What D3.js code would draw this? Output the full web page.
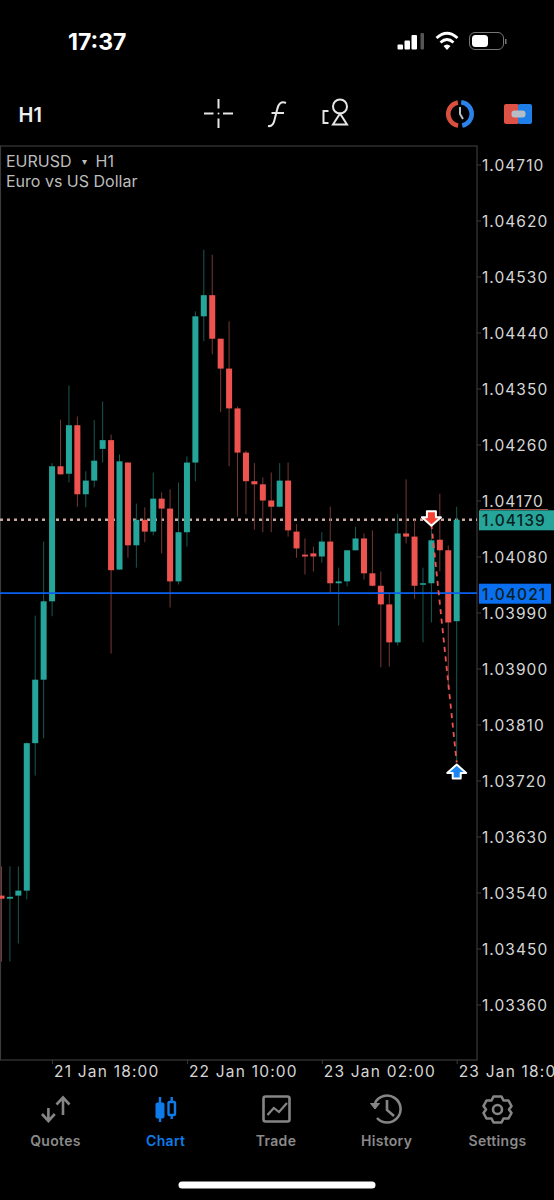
<!DOCTYPE html>
<html>
<head>
<meta charset="utf-8">
<style>
  html, body { margin: 0; padding: 0; background: #000; }
  svg { display: block; font-family: Inter, "Liberation Sans", sans-serif; }
</style>
<script src="https://cdn.jsdelivr.net/npm/d3@7"></script>
</head>
<body>
<div id="chart"></div>
<script>
// hourly candles, oldest first
const opens = [
  1.03535, 1.03530, 1.03535, 1.03543, 1.03780, 1.03882, 1.04008, 1.04225, 1.04213, 1.04291, 1.04180,
  1.04202, 1.04253, 1.04267, 1.04059, 1.04231, 1.04098, 1.04139, 1.04120, 1.04173, 1.04157, 1.04040,
  1.04119, 1.04231, 1.04466, 1.04500, 1.04430, 1.04382, 1.04318, 1.04247, 1.04201, 1.04196, 1.04170,
  1.04160, 1.04202, 1.04120, 1.04083, 1.04085, 1.04080, 1.04104, 1.04037, 1.04040, 1.04090, 1.04109,
  1.04053, 1.04033, 1.04003, 1.03942, 1.04117, 1.04112, 1.04035, 1.04037, 1.04107, 1.04090, 1.03976
];
const closes = [
  1.03530, 1.03533, 1.03543, 1.03780, 1.03882, 1.04008, 1.04225, 1.04212, 1.04291, 1.04180, 1.04202,
  1.04234, 1.04267, 1.04058, 1.04233, 1.04098, 1.04139, 1.04120, 1.04173, 1.04157, 1.04040, 1.04119,
  1.04231, 1.04466, 1.04500, 1.04430, 1.04382, 1.04318, 1.04247, 1.04201, 1.04196, 1.04170, 1.04160,
  1.04202, 1.04122, 1.04093, 1.04080, 1.04080, 1.04104, 1.04037, 1.04040, 1.04090, 1.04109, 1.04053,
  1.04033, 1.04003, 1.03942, 1.04117, 1.04112, 1.04033, 1.04037, 1.04106, 1.04090, 1.03974, 1.04139
];
const highs = [
  1.03582, 1.03582, 1.03582, 1.03781, 1.03985, 1.04104, 1.04230, 1.04300, 1.04355, 1.04305, 1.04217,
  1.04299, 1.04329, 1.04276, 1.04244, 1.04231, 1.04165, 1.04159, 1.04215, 1.04183, 1.04188, 1.04199,
  1.04241, 1.04474, 1.04573, 1.04565, 1.04430, 1.04458, 1.04321, 1.04250, 1.04230, 1.04207, 1.04215,
  1.04230, 1.04231, 1.04132, 1.04109, 1.04096, 1.04119, 1.04160, 1.04062, 1.04090, 1.04128, 1.04117,
  1.04122, 1.04056, 1.04022, 1.04148, 1.04204, 1.04139, 1.04062, 1.04139, 1.04181, 1.04098, 1.04160
];
const lows = [
  1.03429, 1.03429, 1.03458, 1.03529, 1.03728, 1.03788, 1.03984, 1.04212, 1.04199, 1.04160, 1.04159,
  1.04191, 1.04231, 1.03924, 1.04059, 1.04078, 1.04062, 1.04103, 1.04114, 1.04085, 1.03998, 1.04035,
  1.04096, 1.04201, 1.04426, 1.04405, 1.04312, 1.04225, 1.04144, 1.04148, 1.04123, 1.04119, 1.04119,
  1.04159, 1.04112, 1.04078, 1.04051, 1.04056, 1.04070, 1.04022, 1.03969, 1.04032, 1.04090, 1.04043,
  1.04032, 1.03902, 1.03903, 1.03937, 1.04101, 1.04012, 1.03942, 1.03974, 1.04056, 1.03866, 1.03749
];

const priceTicks = [1.04710, 1.04620, 1.04530, 1.04440, 1.04350, 1.04260, 1.04170, 1.04080,
  1.03990, 1.03900, 1.03810, 1.03720, 1.03630, 1.03540, 1.03450, 1.03360];
// candle indexes the time labels sit on, one every 16 hours
const timeTicks = [6, 22, 38, 54];
const timeLabels = ["21 Jan 18:00", "22 Jan 10:00", "23 Jan 02:00", "23 Jan 18:00"];

const bidPrice = 1.04139;
const askPrice = 1.04021;
const tradeIndex = [51, 54];
const tradePrice = [1.04132, 1.03749];

const tabs = ["Quotes", "Chart", "Trade", "History", "Settings"];

const UP = "#26a69a", DOWN = "#ef5350";
const width = 554, height = 1200;
const frameRight = 477, frameTop = 146, frameBottom = 1060;

const svg = d3.select("#chart").append("svg")
  .attr("width", width).attr("height", height);

const x = d3.scaleLinear().domain([0, opens.length - 1]).range([1.5, 456.7]);
const y = d3.scaleLinear().domain([1.0336, 1.0471]).range([1004.5, 164.5]);

// status bar
const status = svg.append("g");
status.append("text").attr("x", 68).attr("y", 49.5).text("17:37")
  .attr("fill", "#fff").attr("font-size", 23).attr("font-weight", 700);
[[397.5, 44.5, 5.5, 5], [404.5, 40.5, 5.5, 9], [411.5, 35, 5.5, 14.5]].forEach(b => {
  status.append("rect").attr("x", b[0]).attr("y", b[1]).attr("width", b[2]).attr("height", b[3])
    .attr("rx", 1).attr("fill", "#fff");
});
status.append("rect").attr("x", 420.5).attr("y", 33).attr("width", 3.5).attr("height", 16.5)
  .attr("rx", 1).attr("fill", "#555");
const wifi = status.append("g").attr("fill", "none").attr("stroke", "#fff").attr("stroke-width", 2.8);
wifi.append("path").attr("d", "M436.5 38 Q447 28.5 457.5 38");
wifi.append("path").attr("d", "M440.5 42.5 Q447 36.5 453.5 42.5");
status.append("path").attr("d", "M443.5 46 Q447 43 450.5 46 L447 50 Z").attr("fill", "#fff");
status.append("rect").attr("x", 469.5).attr("y", 32.5).attr("width", 34).attr("height", 17)
  .attr("rx", 5.5).attr("fill", "none").attr("stroke", "#777").attr("stroke-width", 1);
status.append("rect").attr("x", 472).attr("y", 35).attr("width", 16).attr("height", 12)
  .attr("rx", 3.5).attr("fill", "#fff");
status.append("rect").attr("x", 505).attr("y", 39).attr("width", 1.5).attr("height", 5).attr("fill", "#777");

// toolbar
svg.append("text").attr("x", 18.5).attr("y", 121.5).text("H1")
  .attr("fill", "#eee").attr("font-size", 20).attr("font-weight", 600);
const tb = svg.append("g").attr("stroke", "#e6e6e6").attr("fill", "none").attr("stroke-width", 2);
tb.append("path").attr("d", "M204 113.5H213.5M223 113.5H233M218.5 99V108.5M218.5 118.5V128");
tb.append("circle").attr("cx", 218.5).attr("cy", 113.5).attr("r", 1).attr("fill", "#e6e6e6").attr("stroke", "none");
tb.append("path").attr("d", "M286 103 Q279 100 277 110 L274.5 120 Q273 127 268 126 M271.5 113 H284");
tb.append("circle").attr("cx", 340).attr("cy", 106.5).attr("r", 7);
tb.append("path").attr("d", "M340 113.5 L347 124.5 H333 Z");
tb.append("path").attr("d", "M328.5 111 H323.5 V123 H328.5");
svg.append("path").attr("d", d3.arc().innerRadius(9.5).outerRadius(14).startAngle(3.3).endAngle(6.1)())
  .attr("transform", "translate(460,114)").attr("fill", "#d9503f");
svg.append("path").attr("d", d3.arc().innerRadius(9.5).outerRadius(14).startAngle(0.1).endAngle(2.95)())
  .attr("transform", "translate(460,114)").attr("fill", "#2a82ea");
svg.append("path").attr("d", "M460 107V114L463 119").attr("stroke", "#b8c0c8").attr("stroke-width", 2).attr("fill", "none");
svg.append("rect").attr("x", 504).attr("y", 104).attr("width", 15).attr("height", 20).attr("rx", 2).attr("fill", "#dd5245");
svg.append("rect").attr("x", 518).attr("y", 104).attr("width", 14).attr("height", 20).attr("rx", 2).attr("fill", "#1f7fe8");
svg.append("rect").attr("x", 511.5).attr("y", 110.5).attr("width", 14).attr("height", 7).attr("rx", 3).attr("fill", "#b5bec6");

// chart frame
svg.append("rect").attr("x", 0.5).attr("y", frameTop).attr("width", frameRight - 0.5)
  .attr("height", frameBottom - frameTop).attr("fill", "none").attr("stroke", "#3a3a3a").attr("stroke-width", 1.2);

svg.append("text").attr("x", 6).attr("y", 166.5).text("EURUSD")
  .attr("fill", "#bdbdbd").attr("font-size", 16);
svg.append("text").attr("x", 81.5).attr("y", 165).text("▾")
  .attr("fill", "#bdbdbd").attr("font-size", 10);
svg.append("text").attr("x", 95.5).attr("y", 166.5).text("H1")
  .attr("fill", "#bdbdbd").attr("font-size", 16);
svg.append("text").attr("x", 6).attr("y", 187).text("Euro vs US Dollar")
  .attr("fill", "#bdbdbd").attr("font-size", 16);

// bid line stays behind the candles
svg.append("line").attr("x1", 0).attr("x2", frameRight)
  .attr("y1", y(bidPrice)).attr("y2", y(bidPrice))
  .attr("stroke", "#c9a9a0").attr("stroke-width", 2.4).attr("stroke-dasharray", "3,4");

const candles = svg.append("g").selectAll("g").data(opens).join("g");
candles.append("line")
  .attr("x1", (d, i) => x(i)).attr("x2", (d, i) => x(i))
  .attr("y1", (d, i) => y(highs[i])).attr("y2", (d, i) => y(lows[i]))
  .attr("stroke", (d, i) => closes[i] >= d ? "#185850" : "#763935").attr("stroke-width", 1);
candles.append("rect")
  .attr("x", (d, i) => x(i) - 3)
  .attr("width", 6)
  .attr("y", (d, i) => y(Math.max(d, closes[i])))
  .attr("height", (d, i) => Math.max(1.5, Math.abs(y(d) - y(closes[i]))))
  .attr("fill", (d, i) => closes[i] >= d ? UP : DOWN);

// ask line
svg.append("line").attr("x1", 0).attr("x2", frameRight)
  .attr("y1", y(askPrice)).attr("y2", y(askPrice))
  .attr("stroke", "#0860f0").attr("stroke-width", 1.8);

// trade line and markers
const tradeLine = d3.line().x(d => x(d[0])).y(d => y(d[1]));
svg.append("path").attr("d", tradeLine(tradeIndex.map((d, i) => [d, tradePrice[i]])))
  .attr("fill", "none").attr("stroke", DOWN).attr("stroke-width", 1.8).attr("stroke-dasharray", "5,4.5");
const sellX = x(tradeIndex[0]), sellY = y(tradePrice[0]);
svg.append("path")
  .attr("d", `M${sellX - 9.5} ${sellY - 7} H${sellX - 4.5} V${sellY - 13} H${sellX + 4.5} V${sellY - 7} H${sellX + 9.5} L${sellX} ${sellY + 1.5} Z`)
  .attr("fill", "#f44336").attr("stroke", "#fff").attr("stroke-width", 2).attr("stroke-linejoin", "round");
const buyX = x(tradeIndex[1]), buyY = y(tradePrice[1]);
svg.append("path")
  .attr("d", `M${buyX - 9.5} ${buyY + 10.5} H${buyX - 4} V${buyY + 16} H${buyX + 4} V${buyY + 10.5} H${buyX + 9.5} L${buyX} ${buyY + 2} Z`)
  .attr("fill", "#1c86f2").attr("stroke", "#fff").attr("stroke-width", 2).attr("stroke-linejoin", "round");

// price axis
const yAxis = d3.axisRight(y).tickValues(priceTicks).tickFormat(d3.format(".5f")).tickSize(4).tickPadding(1);
const yG = svg.append("g").attr("transform", `translate(${frameRight},0)`).call(yAxis);
yG.select(".domain").remove();
yG.selectAll("line").attr("stroke", "#3a3a3a");
yG.selectAll("text").attr("fill", "#d6d6d6").attr("font-size", 15.5)
  .attr("font-family", "Inter, sans-serif").attr("letter-spacing", 1.05)
  .attr("dy", "0.4em");

// price tags
function priceTag(price, fill, wide) {
  const g = svg.append("g").attr("transform", `translate(479,${y(price)})`);
  g.append("rect").attr("y", -9.5).attr("width", wide).attr("height", 20).attr("fill", fill);
  g.append("text").attr("x", 3).attr("y", 6.5).text(d3.format(".5f")(price))
    .attr("fill", "#07211e").attr("font-size", 15.5).attr("font-weight", 500).attr("letter-spacing", 1.05);
  return g;
}
priceTag(bidPrice, UP, 75);
svg.append("line").attr("x1", 480).attr("x2", 548).attr("y1", 509.5).attr("y2", 509.5)
  .attr("stroke", "#a8544c").attr("stroke-width", 1);
priceTag(askPrice, "#0a6ef0", 72);

// time axis, the last label runs off the screen in the app too
const xAxis = d3.axisBottom(x).tickValues(timeTicks).tickFormat((d, i) => timeLabels[i]).tickSize(4);
const xG = svg.append("g").attr("transform", `translate(0,${frameBottom})`).call(xAxis);
xG.select(".domain").remove();
xG.selectAll("line").attr("stroke", "#3a3a3a");
xG.selectAll("text").attr("fill", "#d6d6d6").attr("font-size", 15.5)
  .attr("font-family", "Inter, sans-serif").attr("letter-spacing", 1.2)
  .attr("text-anchor", "start").attr("x", 1.5).attr("y", 6).attr("dy", "0.71em");

// bottom tabs
const tabX = [55.5, 165.7, 276, 386.6, 497.5];
svg.append("g").selectAll("text").data(tabs).join("text")
  .attr("x", (d, i) => tabX[i]).attr("y", 1146).attr("text-anchor", "middle")
  .attr("font-size", 14).attr("font-weight", 600).attr("letter-spacing", 0.3)
  .attr("fill", (d, i) => i === 1 ? "#0f7be8" : "#8a8a8a").text(d => d);

const GREY = "#858585";
const quotes = svg.append("g").attr("fill", "none").attr("stroke", GREY).attr("stroke-width", 2.6);
quotes.append("path").attr("d", "M48.4 1108V1121M42 1114 L48.4 1121 L54.8 1114");
quotes.append("path").attr("d", "M63 1115V1097.5M56.5 1104.5 L63 1097.5 L69.5 1104.5");

const chartIcon = svg.append("g").attr("fill", "#0f7be8").attr("stroke", "#0f7be8");
chartIcon.append("path").attr("d", "M160 1097V1122M171.7 1097V1119").attr("stroke-width", 2.4);
chartIcon.append("rect").attr("x", 156).attr("y", 1103).attr("width", 8).attr("height", 15).attr("rx", 1);
chartIcon.append("rect").attr("x", 168.5).attr("y", 1102).attr("width", 6.5).attr("height", 13).attr("rx", 1)
  .attr("fill", "#000").attr("stroke-width", 2.4);

const trade = svg.append("g").attr("fill", "none").attr("stroke", GREY);
trade.append("rect").attr("x", 263.5).attr("y", 1096.5).attr("width", 26).attr("height", 25).attr("rx", 2).attr("stroke-width", 2.6);
trade.append("path").attr("d", "M267.5 1115 L273.8 1108 L279 1112 L287 1103").attr("stroke-width", 2.2);

const hist = svg.append("g").attr("fill", "none").attr("stroke", GREY).attr("stroke-width", 2.6);
hist.append("path").attr("d", "M375 1103 A13.5 13.5 0 1 1 377 1118");
hist.append("path").attr("d", "M370.5 1103.5 H379.5 L375 1109 Z").attr("fill", GREY).attr("stroke-width", 1);
hist.append("path").attr("d", "M387 1100V1110L394 1116");

const gear = svg.append("g").attr("fill", "none").attr("stroke", GREY).attr("stroke-width", 2.6)
  .attr("transform", "translate(28.5,0)");
gear.append("circle").attr("cx", 469).attr("cy", 1109.5).attr("r", 4.5);
gear.append("path").attr("d", "M465 1096.5 H473 L475 1100.5 L480 1100.5 L483 1106 L480.5 1109.5 L483 1113 L480 1118.5 L475 1118.5 L473 1122.5 H465 L463 1118.5 L458 1118.5 L455 1113 L457.5 1109.5 L455 1106 L458 1100.5 L463 1100.5 Z")
  .attr("stroke-linejoin", "round");

// home indicator
svg.append("rect").attr("x", 178.5).attr("y", 1181.5).attr("width", 197).attr("height", 7)
  .attr("rx", 3.5).attr("fill", "#fff");
</script>
</body>
</html>
